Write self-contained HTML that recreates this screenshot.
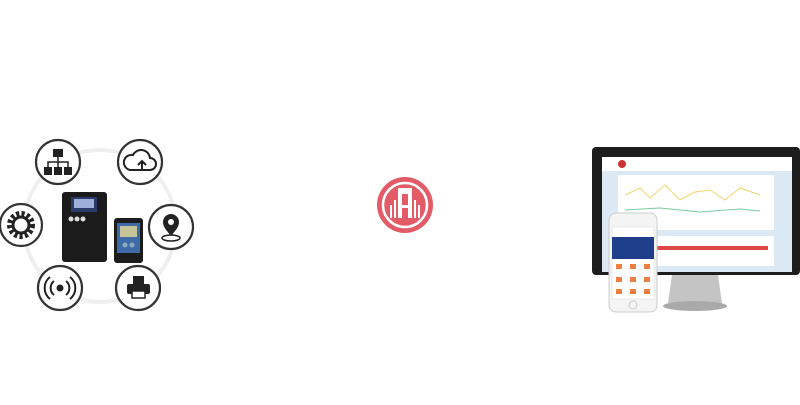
<!DOCTYPE html>
<html><head><style>body{margin:0;background:#fff;width:800px;height:400px;overflow:hidden}</style></head>
<body>
<svg width="800" height="400" viewBox="0 0 800 400" xmlns="http://www.w3.org/2000/svg">
<circle cx="100" cy="226" r="76" fill="none" stroke="#efefef" stroke-width="4"/>
<g fill="#fff" stroke="#333" stroke-width="2.2">
<circle cx="58" cy="162" r="22"/><circle cx="140" cy="162" r="22"/>
<circle cx="21" cy="225" r="21"/><circle cx="171" cy="227" r="22"/>
<circle cx="60" cy="288" r="22"/><circle cx="138" cy="288" r="22"/>
</g>
<g fill="#222"><rect x="53" y="149" width="10" height="8"/><rect x="44" y="167" width="8" height="8"/><rect x="54" y="167" width="8" height="8"/><rect x="64" y="167" width="8" height="8"/></g>
<path d="M58 157v5M48 167v-5h20v5M58 162v5" stroke="#222" stroke-width="1.5" fill="none"/>
<path d="M130 170h20a6 6 0 0 0 0-12a9 9 0 0 0-17-3a7 7 0 0 0-3 15z" fill="none" stroke="#222" stroke-width="2"/>
<path d="M142 171v-9M138 165l4-4 4 4" stroke="#222" stroke-width="2" fill="none"/>
<circle cx="21" cy="225" r="11" fill="none" stroke="#222" stroke-width="6" stroke-dasharray="3 2.2"/>
<circle cx="21" cy="225" r="8" fill="none" stroke="#222" stroke-width="3"/>
<path d="M171 236c-6-7-8-10-8-14a8 8 0 0 1 16 0c0 4-2 7-8 14z" fill="#222"/><circle cx="171" cy="222" r="3" fill="#fff"/>
<ellipse cx="171" cy="238" rx="9" ry="3" fill="none" stroke="#222" stroke-width="1.5"/>
<circle cx="60" cy="288" r="3.5" fill="#222"/>
<path d="M54 281a9 9 0 0 0 0 14M66 281a9 9 0 0 1 0 14M50 277a14 14 0 0 0 0 22M70 277a14 14 0 0 1 0 22" stroke="#222" stroke-width="2" fill="none"/>
<rect x="133" y="276" width="11" height="8" fill="#222"/><rect x="127" y="284" width="23" height="10" rx="2" fill="#222"/><rect x="132" y="291" width="13" height="7" fill="#fff" stroke="#222" stroke-width="1.5"/>
<rect x="62" y="192" width="45" height="70" rx="3" fill="#1b1b1b"/>
<rect x="71" y="197" width="26" height="15" fill="#2a3a6a"/><rect x="74" y="199" width="20" height="9" fill="#9fb0d8"/>
<circle cx="71" cy="219" r="2.5" fill="#ddd"/><circle cx="77" cy="219" r="2.5" fill="#ddd"/><circle cx="83" cy="219" r="2.5" fill="#ddd"/>
<rect x="114" y="218" width="29" height="45" rx="3" fill="#1c1c1c"/>
<rect x="117" y="223" width="23" height="30" fill="#3f6aa8"/><rect x="120" y="226" width="17" height="11" fill="#c8c49a"/>
<circle cx="125" cy="245" r="2.5" fill="#8ab"/><circle cx="132" cy="245" r="2.5" fill="#8ab"/>
<circle cx="405" cy="205" r="28" fill="#e35b66"/>
<circle cx="405" cy="205" r="22" fill="none" stroke="#fff" stroke-width="2.5"/>
<g fill="#fff"><rect x="398" y="188" width="14" height="30"/><rect x="390" y="205" width="2" height="13"/><rect x="394" y="200" width="2" height="18"/><rect x="414" y="200" width="2" height="18"/><rect x="418" y="205" width="2" height="13"/></g>
<rect x="402" y="194" width="6" height="24" fill="#e35b66"/><rect x="401" y="205" width="8" height="3" fill="#fff"/>
<path d="M672 275h46l4 28h-54z" fill="#c4c4c4"/><ellipse cx="695" cy="306" rx="32" ry="5" fill="#aaa"/>
<rect x="592" y="147" width="208" height="128" rx="4" fill="#1d1d1d"/>
<rect x="602" y="157" width="190" height="115" fill="#dbe9f5"/>
<rect x="602" y="157" width="190" height="14" fill="#fff"/>
<circle cx="622" cy="164" r="4" fill="#c33"/>
<rect x="618" y="175" width="156" height="55" fill="#fff"/>
<polyline points="625,195 640,188 650,198 665,185 680,200 695,192 710,190 725,200 740,188 760,195" fill="none" stroke="#f2d36b" stroke-width="1"/>
<polyline points="625,210 660,208 700,212 740,209 760,211" fill="none" stroke="#7cc9a5" stroke-width="1"/>
<rect x="618" y="236" width="156" height="30" fill="#fff"/>
<rect x="652" y="246" width="116" height="4" fill="#e04848"/>
<rect x="609" y="213" width="48" height="99" rx="7" fill="#f4f4f4" stroke="#ccc"/>
<rect x="612" y="227" width="42" height="72" fill="#fff" stroke="#ddd" stroke-width=".5"/>
<rect x="612" y="237" width="42" height="22" fill="#1f3f8a"/>
<g fill="#f08040"><rect x="616" y="264" width="6" height="5"/><rect x="630" y="264" width="6" height="5"/><rect x="644" y="264" width="6" height="5"/><rect x="616" y="277" width="6" height="5"/><rect x="630" y="277" width="6" height="5"/><rect x="644" y="277" width="6" height="5"/><rect x="616" y="289" width="6" height="5"/><rect x="630" y="289" width="6" height="5"/><rect x="644" y="289" width="6" height="5"/></g>
<circle cx="633" cy="305" r="4" fill="none" stroke="#ccc"/>
</svg>
</body></html>
